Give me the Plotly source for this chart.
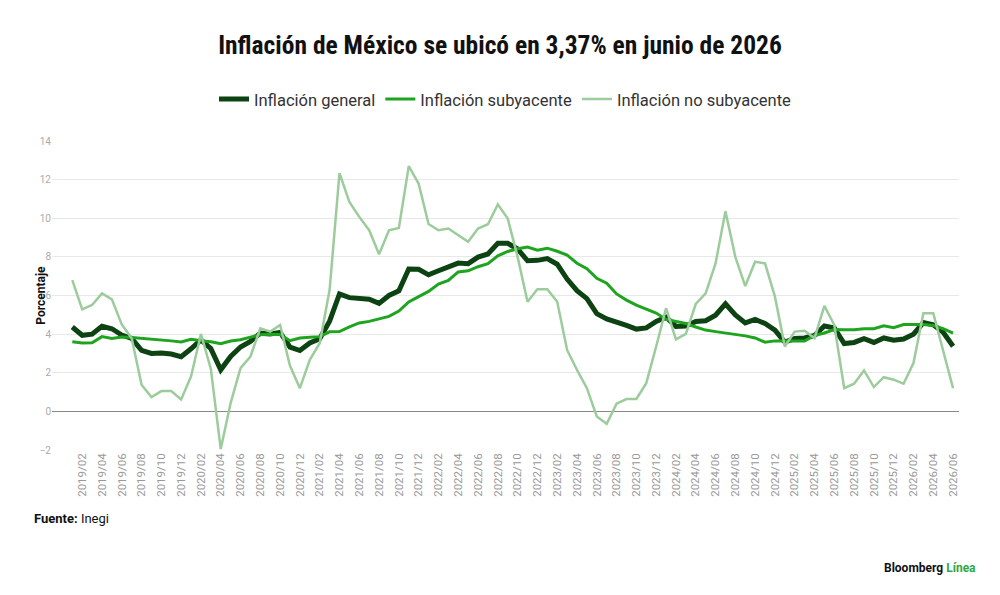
import plotly.graph_objects as go

# monthly categories 2019/01 .. 2026/06
months = ['%d/%02d' % (y, m) for y in range(2019, 2027) for m in range(1, 13)][:90]
tick_labels = months[1::2]

general = [4.37, 3.94, 4.00, 4.41, 4.28, 3.95, 3.78, 3.16, 3.00, 3.02, 2.97, 2.83,
           3.24, 3.70, 3.25, 2.15, 2.84, 3.33, 3.62, 4.05, 4.01, 4.09, 3.33, 3.15,
           3.54, 3.76, 4.67, 6.08, 5.89, 5.88, 5.81, 5.59, 6.00, 6.24, 7.37, 7.36,
           7.07, 7.28, 7.45, 7.68, 7.65, 7.99, 8.15, 8.70, 8.70, 8.41, 7.80, 7.82,
           7.91, 7.62, 6.85, 6.25, 5.84, 5.06, 4.79, 4.64, 4.45, 4.26, 4.32, 4.66,
           4.88, 4.40, 4.42, 4.65, 4.69, 4.98, 5.57, 4.99, 4.58, 4.76, 4.55, 4.21,
           3.59, 3.77, 3.80, 3.93, 4.42, 4.32, 3.51, 3.57, 3.76, 3.57, 3.80, 3.69,
           3.75, 4.00, 4.60, 4.48, 4.10, 3.37]

subyacente = [3.60, 3.54, 3.55, 3.87, 3.77, 3.85, 3.82, 3.78, 3.75, 3.68, 3.65, 3.59,
              3.73, 3.66, 3.60, 3.50, 3.64, 3.71, 3.85, 3.97, 3.99, 3.98, 3.66, 3.80,
              3.84, 3.87, 4.12, 4.13, 4.37, 4.58, 4.66, 4.78, 4.92, 5.19, 5.67, 5.94,
              6.21, 6.59, 6.78, 7.22, 7.28, 7.49, 7.65, 8.05, 8.28, 8.42, 8.51, 8.35,
              8.45, 8.29, 8.09, 7.67, 7.39, 6.89, 6.64, 6.08, 5.76, 5.50, 5.30, 5.09,
              4.76, 4.64, 4.55, 4.37, 4.21, 4.13, 4.05, 4.00, 3.91, 3.80, 3.58, 3.65,
              3.66, 3.65, 3.64, 3.93, 4.06, 4.24, 4.23, 4.23, 4.28, 4.28, 4.43, 4.33,
              4.50, 4.50, 4.50, 4.45, 4.28, 4.05]

no_subyacente = [6.80, 5.28, 5.51, 6.11, 5.80, 4.50, 3.79, 1.38, 0.74, 1.05, 1.05, 0.62,
                 1.81, 4.01, 2.20, -1.95, 0.43, 2.24, 2.84, 4.30, 4.13, 4.47, 2.36, 1.20,
                 2.67, 3.53, 6.28, 12.34, 10.84, 10.07, 9.38, 8.14, 9.38, 9.50, 12.70, 11.79,
                 9.70, 9.38, 9.47, 9.12, 8.78, 9.47, 9.69, 10.72, 9.98, 8.00, 5.68, 6.32,
                 6.32, 5.68, 3.18, 2.15, 1.20, -0.26, -0.64, 0.40, 0.64, 0.64, 1.46, 3.36,
                 5.34, 3.73, 4.01, 5.56, 6.11, 7.66, 10.36, 8.00, 6.49, 7.75, 7.66, 5.94,
                 3.36, 4.13, 4.17, 3.79, 5.46, 4.47, 1.20, 1.43, 2.12, 1.26, 1.77, 1.64,
                 1.43, 2.50, 5.08, 5.08, 3.18, 1.20]

font = 'Roboto, Noto Sans, sans-serif'

fig = go.Figure()
fig.add_trace(go.Scatter(x=months, y=general, mode='lines', name='Inflación general',
                         line=dict(color='#0d4212', width=5)))
fig.add_trace(go.Scatter(x=months, y=subyacente, mode='lines', name='Inflación subyacente',
                         line=dict(color='#1ea41e', width=3)))
fig.add_trace(go.Scatter(x=months, y=no_subyacente, mode='lines', name='Inflación no subyacente',
                         line=dict(color='#9ccb9c', width=2.5)))

fig.update_layout(
    width=1000, height=595,
    paper_bgcolor='white', plot_bgcolor='white',
    margin=dict(l=52, r=41, t=141, b=145, autoexpand=False),
    font=dict(family=font, color='#333'),
    title=dict(text='<b>Inflación de México se ubicó en 3,37% en junio de 2026</b>',
               x=0.5, xanchor='center', y=0.925, yanchor='middle',
               font=dict(family='Liberation Sans Narrow, Roboto Condensed, Roboto', size=25.5, color='#111')),
    legend=dict(orientation='h', x=0.5, xanchor='center', yref='container', y=0.833,
                yanchor='middle', font=dict(size=16.5, color='#333'), itemwidth=30,
                traceorder='normal'),
    showlegend=True,
    xaxis=dict(type='category', range=[-2.05, 89.6], tickmode='array',
               tickvals=tick_labels, ticktext=tick_labels, tickangle=-90,
               tickfont=dict(size=11.5, color='#999'), showgrid=False,
               showline=False, ticks='', automargin=False),
    yaxis=dict(range=[-2, 14], dtick=2, tickfont=dict(size=10, color='#aaa'),
               gridcolor='#e8e8e8', gridwidth=1, zeroline=True, zerolinecolor='#888',
               zerolinewidth=1, ticks='', showline=False, automargin=False),
)

fig.add_annotation(text='<b>Porcentaje</b>', xref='paper', yref='paper', x=-0.013, y=0.5,
                   textangle=-90, showarrow=False, xanchor='center', yanchor='middle',
                   font=dict(size=12, color='#111'))
fig.add_annotation(text='<b>Fuente:</b> Inegi', xref='paper', yref='paper',
                   x=-0.022, y=-0.223, xanchor='left', yanchor='middle', showarrow=False,
                   font=dict(size=13, color='#111'))
fig.add_annotation(text='<b>Bloomberg</b> <b><span style="color:#2fa83f">Línea</span></b>',
                   xref='paper', yref='paper', x=1.021, y=-0.382, xanchor='right',
                   yanchor='middle', showarrow=False, font=dict(size=12, color='#111'))

# page body has a default 8px margin; drop it so the figure sits at the window corner
fig.write_html('out.html', config={'displayModeBar': False},
               post_script="document.body.style.margin='0';")
